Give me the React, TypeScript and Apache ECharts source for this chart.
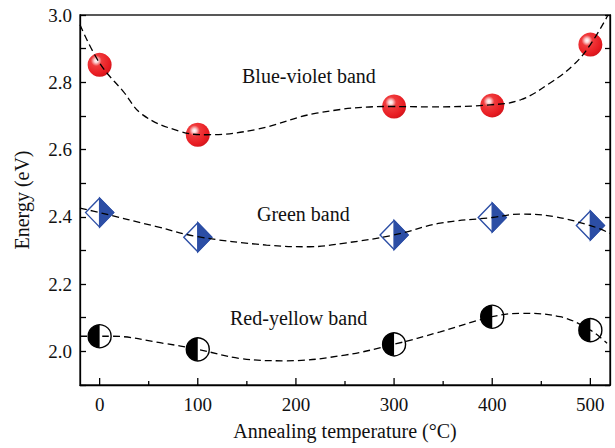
import React, { useEffect, useRef } from "react";
import * as echarts from "echarts";

// Annealing temperatures (°C) of the measured samples
const temperatures = [0, 100, 300, 400, 500];

// Measured band energies (eV)
const blueViolet = [2.852, 2.644, 2.728, 2.731, 2.912];
const green = [2.4125, 2.339, 2.346, 2.398, 2.374];
const redYellow = [2.045, 2.006, 2.021, 2.103, 2.063];

// Fitted guide curves: [temperature, energy]
const blueVioletFit: [number, number][] = [
  [-20, 2.971], [0, 2.857], [24, 2.773], [44, 2.703], [82, 2.654], [109, 2.644],
  [160, 2.66], [221, 2.708], [296, 2.728], [337, 2.727], [398, 2.733], [429, 2.748],
  [459, 2.798], [483, 2.852], [500, 2.912], [518, 3.0],
];
const greenFit: [number, number][] = [
  [-20, 2.426], [0, 2.4125], [58, 2.371], [100, 2.341], [170, 2.316], [214, 2.311],
  [250, 2.322], [300, 2.346], [347, 2.381], [400, 2.398], [429, 2.408], [462, 2.401],
  [500, 2.374], [520, 2.351],
];
const redYellowFit: [number, number][] = [
  [-20, 2.045], [0, 2.045], [12, 2.045], [65, 2.024], [100, 2.006], [143, 1.979],
  [190, 1.972], [250, 1.989], [300, 2.021], [347, 2.058], [400, 2.103], [429, 2.113],
  [469, 2.103], [500, 2.063], [517, 2.024],
];

// Axis ticks
const yTicks = [1.9, 2.0, 2.1, 2.2, 2.3, 2.4, 2.5, 2.6, 2.7, 2.8, 2.9, 3.0];
const yLabelled = ["2.0", "2.2", "2.4", "2.6", "2.8", "3.0"];
const xMajorTicks = [0, 100, 200, 300, 400, 500];
const xMinorTicks = [50, 150, 250, 350, 450];

const bandNames = ["Blue-violet band", "Green band", "Red-yellow band"];

const FONT = "'Liberation Serif', 'Times New Roman', serif";
const BLUE = "#2c4ea5";

const pairs = (ys: number[]) => temperatures.map((t, i) => [t, ys[i]]);

export default function App() {
  const ref = useRef<HTMLDivElement>(null);

  useEffect(() => {
    if (!ref.current) return;
    const chart = echarts.init(ref.current, null, { renderer: "svg" });

    const sphere = (params: any, api: any) => {
      const [cx, cy] = api.coord([api.value(0), api.value(1)]);
      return {
        type: "circle",
        shape: { cx, cy, r: 12 },
        style: {
          fill: new echarts.graphic.RadialGradient(0.36, 0.33, 0.7, [
            { offset: 0, color: "#ffffff" },
            { offset: 0.12, color: "#fbd4d4" },
            { offset: 0.32, color: "#f03a3c" },
            { offset: 0.8, color: "#e81c22" },
            { offset: 1, color: "#d4161c" },
          ]),
        },
      };
    };

    const diamond = (params: any, api: any) => {
      const [cx, cy] = api.coord([api.value(0), api.value(1)]);
      const w = 14;
      const h = 14.5;
      return {
        type: "group",
        children: [
          {
            type: "polygon",
            shape: { points: [[cx, cy - h], [cx + w, cy], [cx, cy + h], [cx - w, cy]] },
            style: { fill: "#ffffff", stroke: BLUE, lineWidth: 1.4 },
          },
          {
            type: "polygon",
            shape: { points: [[cx, cy - h], [cx + w, cy], [cx, cy + h]] },
            style: { fill: BLUE, stroke: BLUE, lineWidth: 1.4 },
          },
        ],
      };
    };

    const halfCircle = (params: any, api: any) => {
      const [cx, cy] = api.coord([api.value(0), api.value(1)]);
      const r = 11.5;
      return {
        type: "group",
        children: [
          {
            type: "circle",
            shape: { cx, cy, r },
            style: { fill: "#ffffff", stroke: "#000000", lineWidth: 1.4 },
          },
          {
            type: "sector",
            shape: { cx, cy, r0: 0, r, startAngle: Math.PI / 2, endAngle: (Math.PI * 3) / 2, clockwise: true },
            style: { fill: "#000000" },
          },
        ],
      };
    };

    const tickSeries = (values: number[], len: number) => ({
      type: "custom",
      silent: true,
      clip: false,
      data: values.map((v) => [v, 1.9]),
      renderItem: (params: any, api: any) => {
        const [x, y] = api.coord([api.value(0), api.value(1)]);
        return {
          type: "line",
          shape: { x1: x, y1: y, x2: x, y2: y - len },
          style: { stroke: "#000000", lineWidth: 1.3 },
        };
      },
      z: 5,
    });

    const fitLine = (data: [number, number][]) => ({
      type: "line",
      data,
      smooth: 0.4,
      symbol: "none",
      lineStyle: { color: "#000000", width: 1.3, type: [7, 4] },
      z: 4,
    });

    const yAxisBase = {
      type: "value",
      min: 1.9,
      max: 3.0,
      interval: 0.1,
      splitLine: { show: false },
      axisLine: { show: true, onZero: false, lineStyle: { color: "#000000", width: 1.3 } },
      axisTick: { show: true, inside: true, length: 6, lineStyle: { color: "#000000", width: 1.3 } },
    };

    chart.setOption({
      animation: false,
      backgroundColor: "#ffffff",
      grid: {
        left: 80,
        right: 5,
        top: 15,
        bottom: 63,
        show: true,
        borderColor: "#222222",
        borderWidth: 1.4,
      },
      xAxis: {
        type: "value",
        min: -20,
        max: 520,
        splitNumber: 5,
        name: "Annealing temperature (°C)",
        nameLocation: "middle",
        nameGap: 36,
        nameTextStyle: { fontFamily: FONT, fontSize: 20, color: "#111111" },
        splitLine: { show: false },
        axisLine: { show: true, onZero: false, lineStyle: { color: "#000000", width: 1.3 } },
        axisTick: { show: false },
        axisLabel: {
          margin: 10,
          fontFamily: FONT,
          fontSize: 19,
          color: "#111111",
          showMinLabel: false,
          showMaxLabel: false,
          formatter: (v: number) => (xMajorTicks.includes(v) ? String(v) : ""),
        },
      },
      yAxis: [
        {
          ...yAxisBase,
          position: "left",
          name: "Energy (eV)",
          nameLocation: "middle",
          nameGap: 48,
          nameTextStyle: { fontFamily: FONT, fontSize: 20, color: "#111111" },
          axisLabel: {
            margin: 8,
            fontFamily: FONT,
            fontSize: 19,
            color: "#111111",
            formatter: (v: number) => {
              const s = v.toFixed(1);
              return yLabelled.includes(s) ? s : "";
            },
          },
        },
        {
          ...yAxisBase,
          position: "right",
          axisLabel: { show: false },
          axisTick: { show: true, inside: true, length: 5, lineStyle: { color: "#000000", width: 1.3 } },
        },
      ],
      graphic: [
        {
          type: "text",
          left: 242,
          top: 66,
          style: { text: bandNames[0], font: `20px ${FONT}`, fill: "#111111" },
        },
        {
          type: "text",
          left: 257,
          top: 204,
          style: { text: bandNames[1], font: `20px ${FONT}`, fill: "#111111" },
        },
        {
          type: "text",
          left: 230,
          top: 308,
          style: { text: bandNames[2], font: `20px ${FONT}`, fill: "#111111" },
        },
      ],
      series: [
        { type: "custom", name: bandNames[0], data: pairs(blueViolet), renderItem: sphere, z: 3 },
        { type: "custom", name: bandNames[1], data: pairs(green), renderItem: diamond, z: 3 },
        { type: "custom", name: bandNames[2], data: pairs(redYellow), renderItem: halfCircle, z: 3 },
        fitLine(blueVioletFit),
        fitLine(greenFit),
        fitLine(redYellowFit),
        tickSeries(xMajorTicks, 7),
        tickSeries(xMinorTicks, 4),
      ],
    });

    return () => chart.dispose();
  }, []);

  return (
    <div
      ref={ref}
      style={{ position: "fixed", left: 0, top: 0, width: 615, height: 448, background: "#ffffff" }}
    />
  );
}
